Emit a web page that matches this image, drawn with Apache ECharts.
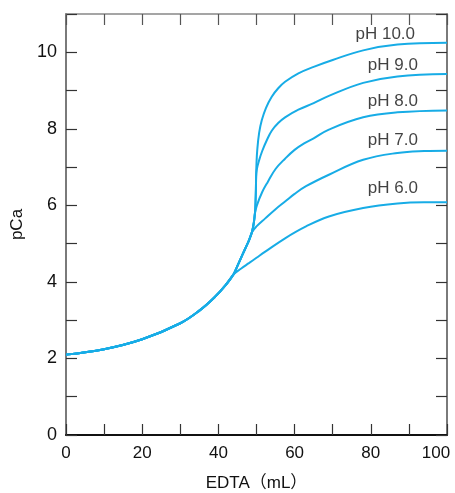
<!DOCTYPE html>
<html>
<head>
<meta charset="utf-8">
<script src="https://cdn.jsdelivr.net/npm/echarts@6/dist/echarts.min.js"></script>
<style>
html,body{margin:0;padding:0;background:#fff;overflow:hidden;}
#chart{width:455px;height:493px;}
</style>
</head>
<body>
<div id="chart"></div>
<script>
// Shared titration trunk (EDTA mL, pCa)
var trunk = [[0,2.1],[10,2.24],[20,2.5],[30,2.92],[35,3.25],[39,3.6],[42,3.93],[44,4.2]];
var trunkUpper = [[45,4.42],[46,4.64],[47,4.86],[48,5.08],[48.8,5.3]];
var trunkTop = [[49.3,5.55],[49.6,5.8],[49.75,6.1],[49.85,6.45],[49.9,6.75]];

var ph6 = [[46,4.35],[48,4.49],[50,4.63],[52.3,4.79],[57.5,5.14],[63,5.45],[69,5.71],[78,5.93],[87,6.05],[94,6.08],[100,6.08]];
var ph7 = [[50,5.45],[52.3,5.66],[55,5.9],[57.5,6.1],[60,6.3],[63,6.5],[69,6.8],[78,7.19],[87,7.37],[94,7.42],[100,7.43]];
var ph8 = [[50.1,6.0],[51.5,6.35],[53,6.62],[55,6.95],[57.5,7.22],[60,7.45],[62.5,7.62],[65,7.75],[69,7.98],[78,8.3],[87,8.43],[100,8.48]];
var ph9 = [[50.1,6.95],[50.6,7.15],[51.5,7.42],[52.7,7.7],[54,7.95],[55.7,8.15],[57.5,8.3],[61,8.5],[65,8.67],[69,8.86],[78,9.2],[87,9.37],[100,9.43]];
var ph10 = [[50.0,7.1],[50.2,7.45],[50.7,7.9],[51.4,8.23],[52.5,8.55],[54,8.84],[55.7,9.06],[57.5,9.23],[61,9.45],[65,9.62],[70,9.8],[78,10.05],[87,10.2],[100,10.25]];

var seriesNames = ['pH 6.0','pH 7.0','pH 8.0','pH 9.0','pH 10.0'];
var labelX = [85.8, 85.8, 85.8, 85.8, 83.8];
var labelY = [6.44, 7.71, 8.72, 9.67, 10.48];

var xTicks = [0, 100, 10];   // min, max, tick step
var yTicks = [0, 11, 1];

var curves = [
  trunk.concat(ph6),
  trunk.concat(trunkUpper, ph7),
  trunk.concat(trunkUpper, [[49.3,5.55],[49.6,5.8]], ph8),
  trunk.concat(trunkUpper, trunkTop, ph9),
  trunk.concat(trunkUpper, trunkTop, ph10)
];

var lineColor = '#17ace6';
var font = '"Liberation Sans", Arial, "Noto Sans CJK SC", sans-serif';

var series = curves.map(function (d, i) {
  return {
    type: 'line', name: seriesNames[i], data: d, showSymbol: false, symbol: 'none',
    smooth: 0.4,
    lineStyle: { color: lineColor, width: 2 }, z: 3, silent: true
  };
});
series.push({
  type: 'scatter', symbolSize: 0, silent: true,
  data: seriesNames.map(function (n, i) { return { name: n, value: [labelX[i], labelY[i]] }; }),
  label: {
    show: true, position: 'inside', formatter: function (p) { return p.name; },
    color: '#111', fontSize: 17, fontFamily: font
  }
});

var chart = echarts.init(document.getElementById('chart'), null, { renderer: 'canvas' });
chart.setOption({
  animation: false,
  backgroundColor: '#fff',
  grid: { left: 66, right: 8, top: 14, bottom: 58, containLabel: false, outerBoundsMode: 'none' },
  xAxis: [{
    type: 'value', position: 'bottom', min: xTicks[0], max: xTicks[1], interval: xTicks[2],
    name: 'EDTA（mL）', nameLocation: 'middle', nameGap: 40,
    nameTextStyle: { color: '#111', fontSize: 17, fontFamily: font },
    axisLine: { show: true, onZero: false, lineStyle: { color: '#111', width: 2 } },
    axisTick: { show: true, inside: true, length: 11, lineStyle: { color: '#333', width: 1.2 } },
    axisLabel: { color: '#111', fontSize: 17, fontFamily: font, margin: 10,
      formatter: function (v) {
        if (v === xTicks[1]) return '{e|' + v + '}';
        return v % 20 === 0 ? String(v) : '';
      },
      rich: { e: { color: '#111', fontSize: 17, fontFamily: font, padding: [0, 22, 0, 0] } }
    },
    splitLine: { show: false }
  }, {
    type: 'value', position: 'top', min: xTicks[0], max: xTicks[1], interval: xTicks[2],
    axisLine: { show: true, onZero: false, lineStyle: { color: '#888', width: 1.5 } },
    axisTick: { show: true, inside: true, length: 11, lineStyle: { color: '#555', width: 1.2 } },
    axisLabel: { show: false }, splitLine: { show: false }
  }],
  yAxis: [{
    type: 'value', position: 'left', min: yTicks[0], max: yTicks[1], interval: yTicks[2],
    name: 'pCa', nameLocation: 'middle', nameGap: 40,
    nameTextStyle: { color: '#111', fontSize: 17, fontFamily: font },
    axisLine: { show: true, onZero: false, lineStyle: { color: '#7a7a7a', width: 2 } },
    axisTick: { show: true, inside: true, length: 11, lineStyle: { color: '#333', width: 1.2 } },
    axisLabel: { color: '#111', fontSize: 18, fontFamily: font, margin: 9,
      formatter: function (v) { return (v % 2 === 0 && v <= 10) ? String(v) : ''; } },
    splitLine: { show: false }
  }, {
    type: 'value', position: 'right', min: yTicks[0], max: yTicks[1], interval: yTicks[2],
    axisLine: { show: true, onZero: false, lineStyle: { color: '#7a7a7a', width: 2 } },
    axisTick: { show: true, inside: true, length: 11, lineStyle: { color: '#333', width: 1.2 } },
    axisLabel: { show: false }, splitLine: { show: false }
  }],
  series: series
});
</script>
</body>
</html>
